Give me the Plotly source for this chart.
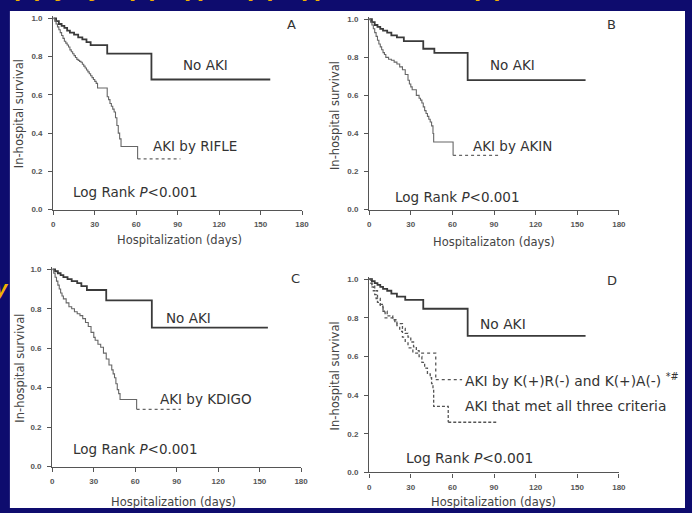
import plotly.graph_objects as go

W, H = 692, 513

# ---------------- data ----------------
x_ticks = [0, 30, 60, 90, 120, 150, 180]
x_tick_labels = ["0", "30", "60", "90", "120", "150", "180"]
y_ticks = [0.0, 0.2, 0.4, 0.6, 0.8, 1.0]
y_tick_labels = ["0.0", "0.2", "0.4", "0.6", "0.8", "1.0"]

# Panel A
a_noaki_t = [0, 2, 4, 6, 8, 10, 12, 15, 18, 21, 24, 27, 39, 71, 157]
a_noaki_s = [1.0, 0.985, 0.97, 0.96, 0.95, 0.935, 0.925, 0.915, 0.90, 0.89, 0.875, 0.86, 0.815, 0.68, 0.68]
a_aki_t = [0, 1, 2, 3, 4, 5, 6, 7, 8, 9, 10, 11, 12, 13, 14, 15, 16, 17, 18, 19, 20, 21, 22, 23, 24, 25,
           26, 27, 28, 29, 30, 31, 32, 39, 40, 41, 42, 43, 44, 45, 46, 47, 48, 49, 61]
a_aki_s = [1.0, 0.985, 0.97, 0.955, 0.94, 0.925, 0.91, 0.895, 0.88, 0.87, 0.86, 0.85, 0.835, 0.825, 0.815,
           0.805, 0.795, 0.785, 0.78, 0.775, 0.77, 0.76, 0.75, 0.74, 0.73, 0.72, 0.71, 0.70, 0.69, 0.68,
           0.67, 0.66, 0.636, 0.59, 0.575, 0.555, 0.54, 0.525, 0.51, 0.48, 0.44, 0.40, 0.37, 0.33, 0.265]
a_aki_end = 92

# Panel B
b_noaki_t = [0, 2, 4, 6, 8, 10, 13, 16, 20, 25, 39, 47, 71, 156]
b_noaki_s = [1.0, 0.985, 0.97, 0.96, 0.95, 0.94, 0.93, 0.915, 0.905, 0.885, 0.845, 0.823, 0.68, 0.68]
b_aki_t = [0, 1, 2, 3, 4, 5, 6, 7, 8, 9, 10, 11, 12, 14, 16, 18, 20, 22, 24, 26, 28, 29, 30, 31, 34,
           36, 37, 38, 39, 40, 41, 42, 43, 44, 45, 46, 46.5, 60.5]
b_aki_s = [1.0, 0.985, 0.97, 0.95, 0.93, 0.91, 0.89, 0.87, 0.855, 0.84, 0.825, 0.815, 0.80, 0.79, 0.785,
           0.775, 0.765, 0.75, 0.735, 0.71, 0.68, 0.66, 0.645, 0.63, 0.60, 0.585, 0.575, 0.56, 0.54, 0.52,
           0.505, 0.49, 0.475, 0.46, 0.44, 0.40, 0.355, 0.285]
b_aki_end = 93

# Panel C
c_noaki_t = [0, 2, 4, 6, 8, 11, 14, 18, 21, 25, 39, 72, 156]
c_noaki_s = [1.0, 0.99, 0.98, 0.97, 0.96, 0.95, 0.94, 0.93, 0.915, 0.895, 0.842, 0.704, 0.704]
c_aki_t = [0, 1, 2, 3, 4, 5, 6, 7, 8, 10, 12, 14, 16, 18, 20, 22, 24, 26, 28, 30, 31, 33, 35, 37, 39,
           41, 43, 44, 45, 46, 47, 48, 49, 61]
c_aki_s = [1.0, 0.98, 0.96, 0.94, 0.92, 0.90, 0.88, 0.865, 0.85, 0.83, 0.81, 0.80, 0.785, 0.775, 0.765,
           0.75, 0.73, 0.71, 0.68, 0.655, 0.64, 0.62, 0.605, 0.575, 0.545, 0.515, 0.49, 0.47, 0.45, 0.42,
           0.39, 0.37, 0.34, 0.29]
c_aki_end = 93

# Panel D
d_noaki_t = [0, 2, 4, 6, 8, 10, 13, 16, 20, 26, 39, 71, 156]
d_noaki_s = [1.0, 0.99, 0.98, 0.97, 0.96, 0.95, 0.94, 0.925, 0.91, 0.893, 0.847, 0.707, 0.707]
d_partial_t = [0, 2, 4, 6, 8, 10, 11.5, 18.5, 20, 22, 24, 26, 28, 31.5, 48]
d_partial_s = [1.0, 0.97, 0.94, 0.90, 0.87, 0.83, 0.80, 0.78, 0.76, 0.73, 0.70, 0.67, 0.645, 0.617, 0.48]
d_partial_end = 67
d_all3_t = [0, 1, 2, 3, 4, 5, 6, 8, 10, 13, 17, 20, 24, 26, 28, 30, 32, 34, 36, 38, 40, 42, 44, 45, 46,
            46.5, 57]
d_all3_s = [1.0, 0.98, 0.96, 0.94, 0.92, 0.90, 0.88, 0.86, 0.834, 0.81, 0.79, 0.77, 0.745, 0.72, 0.70,
            0.675, 0.65, 0.63, 0.60, 0.57, 0.54, 0.51, 0.49, 0.46, 0.43, 0.342, 0.26]
d_all3_end = 93

header_texts = ["(+)", "y", "y", "(+)", "(-)", "(+)", "(-)", "(+)"]
side_text = "y"

# ---------------- styling / layout ----------------
BLUE = "#0e0c6e"
YELLOW = "#f2b200"
DARK = "#3a3a3a"
GRAY = "#666666"
TXT = "#333333"
FONT = "Arial, Liberation Sans, sans-serif"
WFONT = "DejaVu Sans, Arial, sans-serif"

panels = [
    dict(name="A", px=(52, 304), py=(210.5, 16.5),
         curves=[(a_noaki_t, a_noaki_s, None, "noaki"), (a_aki_t, a_aki_s, a_aki_end, "aki")],
         letter=(293, 23),
         labels=[("No AKI", 206, 64, "center"), ("AKI by RIFLE", 196, 146, "center"),
                 ("Log Rank <i>P</i>&lt;0.001", 135, 193, "center")],
         ytitle=(18, 113), xtitle=(180, 241), xtext="Hospitalization (days)"),
    dict(name="B", px=(372, 625), py=(210.5, 17.5),
         curves=[(b_noaki_t, b_noaki_s, None, "noaki"), (b_aki_t, b_aki_s, b_aki_end, "aki")],
         letter=(618, 23),
         labels=[("No AKI", 517, 64, "center"), ("AKI by AKIN", 517, 146, "center"),
                 ("Log Rank <i>P</i>&lt;0.001", 461, 198, "center")],
         ytitle=(338, 115), xtitle=(498, 243), xtext="Hospitalizaton (days)"),
    dict(name="C", px=(51, 303), py=(471, 271),
         curves=[(c_noaki_t, c_noaki_s, None, "noaki"), (c_aki_t, c_aki_s, c_aki_end, "aki")],
         letter=(297, 280),
         labels=[("No AKI", 189, 320, "center"), ("AKI by KDIGO", 207, 402, "center"),
                 ("Log Rank <i>P</i>&lt;0.001", 135, 453, "center")],
         ytitle=(18, 371), xtitle=(174, 507), xtext="Hospitalization (days)"),
    dict(name="D", px=(372, 625), py=(477, 281),
         curves=[(d_noaki_t, d_noaki_s, None, "noaki"), (d_partial_t, d_partial_s, d_partial_end, "dot"),
                 (d_all3_t, d_all3_s, d_all3_end, "dash")],
         letter=(618, 282),
         labels=[("No AKI", 508, 326, "center"),
                 ("AKI by K(+)R(-) and K(+)A(-) <sup>*#</sup>", 467, 383, "left"),
                 ("AKI that met all three criteria", 467, 410, "left"),
                 ("Log Rank <i>P</i>&lt;0.001", 474, 462, "center")],
         ytitle=(337, 379), xtitle=(498, 507), xtext="Hospitalization (days)"),
]

TOP_EXTRA = 0.012

fig = go.Figure()
annotations = []
layout_axes = {}


def paper_x(p):
    return p / W


def paper_y(p):
    return 1 - p / H


for i, pn in enumerate(panels):
    k = "" if i == 0 else str(i + 1)
    xa, ya = "x" + k, "y" + k
    x0p, x1p = pn["px"]
    y0p, y1p = pn["py"]
    top = y1p - TOP_EXTRA * (y0p - y1p)
    layout_axes["xaxis" + k] = dict(
        domain=[x0p / W, x1p / W], range=[0, 180], anchor=ya,
        tickvals=x_ticks, ticktext=x_tick_labels,
        showline=True, linecolor="#555", linewidth=1.4, ticks="outside", ticklen=4,
        tickcolor="#555", tickwidth=1.4, showgrid=False, zeroline=False,
        tickfont=dict(family=FONT, size=8, color="#555", weight="bold"), ticklabelstandoff=3,
    )
    layout_axes["yaxis" + k] = dict(
        domain=[(H - y0p) / H, (H - top) / H], range=[0, 1 + TOP_EXTRA], anchor=xa,
        tickvals=y_ticks, ticktext=y_tick_labels,
        showline=True, linecolor="#555", linewidth=1.4, ticks="outside", ticklen=4,
        tickcolor="#555", tickwidth=1.4, showgrid=False, zeroline=False,
        tickfont=dict(family=FONT, size=8, color="#555", weight="bold"), ticklabelstandoff=4,
    )
    for (t, s, tail, style) in pn["curves"]:
        if style == "noaki":
            line = dict(color=DARK, width=1.8)
        elif style == "aki":
            line = dict(color=GRAY, width=1.1)
        elif style == "dot":
            line = dict(color="#555", width=1.3, dash="dot")
        else:
            line = dict(color="#555", width=1.3, dash="3px,2px")
        fig.add_trace(go.Scatter(x=t, y=s, mode="lines", line=dict(shape="hv", **line),
                                 xaxis=xa, yaxis=ya, showlegend=False, hoverinfo="skip"))
        if tail is not None:
            tail_line = dict(line)
            if style == "aki":
                tail_line["dash"] = "dot"
                tail_line["width"] = 1.3
            fig.add_trace(go.Scatter(x=[t[-1], tail], y=[s[-1], s[-1]], mode="lines",
                                     line=tail_line, xaxis=xa, yaxis=ya,
                                     showlegend=False, hoverinfo="skip"))
    # panel letter
    lx, ly = pn["letter"]
    annotations.append(dict(text=pn["name"], x=paper_x(lx), y=paper_y(ly), xref="paper", yref="paper",
                            showarrow=False, xanchor="center", yanchor="middle",
                            font=dict(family=WFONT, size=13, color=TXT)))
    for (txt, tx, ty, anchor) in pn["labels"]:
        annotations.append(dict(text=txt, x=paper_x(tx), y=paper_y(ty), xref="paper", yref="paper",
                                showarrow=False, xanchor=anchor, yanchor="middle",
                                font=dict(family=WFONT, size=13.5 if pn["name"] != "D" else 13.8,
                                          color=TXT)))
    yx, yy = pn["ytitle"]
    annotations.append(dict(text="In-hospital survival", x=paper_x(yx), y=paper_y(yy), xref="paper",
                            yref="paper", showarrow=False, textangle=-90, xanchor="center",
                            yanchor="middle", font=dict(family=WFONT, size=11.5, color="#444")))
    tx_, ty_ = pn["xtitle"]
    annotations.append(dict(text=pn["xtext"], x=paper_x(tx_), y=paper_y(ty_), xref="paper",
                            yref="paper", showarrow=False, xanchor="center", yanchor="middle",
                            font=dict(family=WFONT, size=11.5, color="#444")))

# cropped yellow slide-title fragments at the top edge and left edge
header_x = [26, 60, 95, 142, 195, 262, 313, 492]
for txt, hx in zip(header_texts, header_x):
    annotations.append(dict(text="<b>" + txt + "</b>", x=paper_x(hx), y=paper_y(2), xref="paper",
                            yref="paper", showarrow=False, xanchor="center", yanchor="bottom",
                            font=dict(family=FONT, size=26, color=YELLOW)))
annotations.append(dict(text="<b><i>" + side_text + "</i></b>", x=paper_x(9), y=paper_y(290),
                        xref="paper", yref="paper", showarrow=False, xanchor="right",
                        yanchor="middle", font=dict(family=FONT, size=22, color=YELLOW)))

fig.update_layout(
    width=W, height=H, margin=dict(l=0, r=0, t=0, b=0),
    paper_bgcolor=BLUE, plot_bgcolor="rgba(0,0,0,0)",
    showlegend=False, annotations=annotations,
    shapes=[dict(type="rect", xref="paper", yref="paper", x0=8 / W, x1=1, y0=0, y1=1 - 9 / H,
                 fillcolor="white", line=dict(width=0), layer="below")],
    **layout_axes,
)

fig.write_html("out.html")
